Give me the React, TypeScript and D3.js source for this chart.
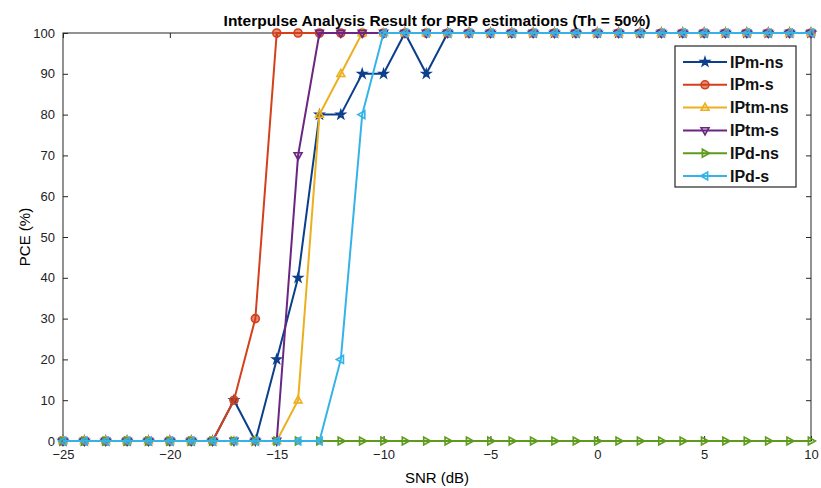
import { useEffect, useRef } from "react"
import * as d3 from "d3"

// SNR axis values (dB)
const snr = d3.range(-25, 11)

// PCE (%) per series, one value per SNR step
const ipmNs = [0, 0, 0, 0, 0, 0, 0, 0, 10, 0, 20, 40, 80, 80, 90, 90, 100, 90, 100, 100, 100, 100, 100, 100, 100, 100, 100, 100, 100, 100, 100, 100, 100, 100, 100, 100]
const ipmS = [0, 0, 0, 0, 0, 0, 0, 0, 10, 30, 100, 100, 100, 100, 100, 100, 100, 100, 100, 100, 100, 100, 100, 100, 100, 100, 100, 100, 100, 100, 100, 100, 100, 100, 100, 100]
const iptmNs = [0, 0, 0, 0, 0, 0, 0, 0, 0, 0, 0, 10, 80, 90, 100, 100, 100, 100, 100, 100, 100, 100, 100, 100, 100, 100, 100, 100, 100, 100, 100, 100, 100, 100, 100, 100]
const iptmS = [0, 0, 0, 0, 0, 0, 0, 0, 0, 0, 0, 70, 100, 100, 100, 100, 100, 100, 100, 100, 100, 100, 100, 100, 100, 100, 100, 100, 100, 100, 100, 100, 100, 100, 100, 100]
const ipdNs = [0, 0, 0, 0, 0, 0, 0, 0, 0, 0, 0, 0, 0, 0, 0, 0, 0, 0, 0, 0, 0, 0, 0, 0, 0, 0, 0, 0, 0, 0, 0, 0, 0, 0, 0, 0]
const ipdS = [0, 0, 0, 0, 0, 0, 0, 0, 0, 0, 0, 0, 0, 20, 80, 100, 100, 100, 100, 100, 100, 100, 100, 100, 100, 100, 100, 100, 100, 100, 100, 100, 100, 100, 100, 100]

const seriesNames = ["IPm-ns", "IPm-s", "IPtm-ns", "IPtm-s", "IPd-ns", "IPd-s"]
const seriesValues = [ipmNs, ipmS, iptmNs, iptmS, ipdNs, ipdS]
const seriesColors = ["#0b3f8c", "#d4401a", "#ecb01f", "#6a2682", "#5e9a1e", "#35b3e8"]
const seriesMarkers = ["star", "circle", "up", "down", "right", "left"]

const xTicks = [-25, -20, -15, -10, -5, 0, 5, 10]
const yTicks = d3.range(0, 101, 10)

const W = 821
const H = 488
const margin = { top: 33, right: 10, bottom: 47, left: 63 }
const font = "Liberation Sans, Arial, sans-serif"

const markerPath = (kind: string, r: number) => {
  if (kind === "star") return d3.symbol(d3.symbolStar, r * r * 1.1)()
  if (kind === "circle") return d3.symbol(d3.symbolCircle, r * r * 2.6)()
  const tri = `M0,${-r}L${r * 0.9},${r * 0.6}L${-r * 0.9},${r * 0.6}Z`
  const rot = { up: 0, down: 180, right: 90, left: -90 }[kind] || 0
  return { d: tri, rot }
}

const App = () => {
  const ref = useRef<SVGSVGElement>(null)

  useEffect(() => {
    const svg = d3.select(ref.current)
    svg.selectAll("*").remove()

    const width = W - margin.left - margin.right
    const height = H - margin.top - margin.bottom

    const x = d3.scaleLinear().domain([-25, 10]).range([0, width])
    const y = d3.scaleLinear().domain([0, 100]).range([height, 0])

    const g = svg.append("g").attr("transform", `translate(${margin.left},${margin.top})`)

    g.append("rect")
      .attr("width", width)
      .attr("height", height)
      .attr("fill", "#fff")
      .attr("stroke", "#262626")
      .attr("stroke-width", 1)

    // ticks inside on all four sides
    const ax = (sel: any) => sel.selectAll(".domain").remove()
    g.append("g")
      .attr("transform", `translate(0,${height})`)
      .call(d3.axisBottom(x).tickValues(xTicks).tickSizeInner(-5).tickPadding(9).tickFormat(d3.format("d")))
      .call(ax)
    g.append("g")
      .call(d3.axisTop(x).tickValues(xTicks).tickSizeInner(-5).tickFormat(() => ""))
      .call(ax)
    g.append("g")
      .call(d3.axisLeft(y).tickValues(yTicks).tickSizeInner(-5).tickPadding(8))
      .call(ax)
    g.append("g")
      .attr("transform", `translate(${width},0)`)
      .call(d3.axisRight(y).tickValues(yTicks).tickSizeInner(-5).tickFormat(() => ""))
      .call(ax)

    g.selectAll(".tick line").attr("stroke", "#262626")
    g.selectAll(".tick text")
      .attr("font-family", font)
      .attr("font-size", 13)
      .attr("fill", "#222")

    const line = d3
      .line<number>()
      .x((_, i) => x(snr[i]))
      .y((d) => y(d))

    const drawMarker = (sel: any, kind: string, color: string, cx: number, cy: number) => {
      const m: any = markerPath(kind, 4.4)
      if (typeof m === "string") {
        sel.append("path")
          .attr("d", m)
          .attr("transform", `translate(${cx},${cy})`)
          .attr("fill", color)
          .attr("fill-opacity", kind === "circle" ? 0.6 : 0.8)
          .attr("stroke", color)
          .attr("stroke-width", 1.6)
      } else {
        sel.append("path")
          .attr("d", m.d)
          .attr("transform", `translate(${cx},${cy}) rotate(${m.rot})`)
          .attr("fill", color)
          .attr("fill-opacity", 0.15)
          .attr("stroke", color)
          .attr("stroke-width", 1.6)
      }
    }

    seriesValues.forEach((vals, si) => {
      const color = seriesColors[si]
      g.append("path")
        .datum(vals)
        .attr("d", line)
        .attr("fill", "none")
        .attr("stroke", color)
        .attr("stroke-width", 2)
      const mg = g.append("g")
      vals.forEach((v, i) => drawMarker(mg, seriesMarkers[si], color, x(snr[i]), y(v)))
    })

    // title and axis labels
    svg.append("text")
      .attr("x", margin.left + width / 2)
      .attr("y", 26)
      .attr("text-anchor", "middle")
      .attr("font-family", font)
      .attr("font-size", 15.5)
      .attr("font-weight", "bold")
      .text("Interpulse Analysis Result for PRP estimations (Th = 50%)")

    svg.append("text")
      .attr("x", margin.left + width / 2)
      .attr("y", 483)
      .attr("text-anchor", "middle")
      .attr("font-family", font)
      .attr("font-size", 15)
      .text("SNR (dB)")

    svg.append("text")
      .attr("transform", `translate(30,${margin.top + height / 2}) rotate(-90)`)
      .attr("text-anchor", "middle")
      .attr("font-family", font)
      .attr("font-size", 15)
      .text("PCE (%)")

    // legend
    const lg = svg.append("g").attr("transform", "translate(675,46)")
    lg.append("rect")
      .attr("width", 121)
      .attr("height", 141)
      .attr("fill", "#fff")
      .attr("stroke", "#262626")
      .attr("stroke-width", 1.2)
    seriesNames.forEach((name, i) => {
      const cy = 16 + i * 22.8
      const color = seriesColors[i]
      lg.append("line")
        .attr("x1", 8)
        .attr("x2", 52)
        .attr("y1", cy)
        .attr("y2", cy)
        .attr("stroke", color)
        .attr("stroke-width", 2)
      drawMarker(lg, seriesMarkers[i], color, 30, cy)
      lg.append("text")
        .attr("x", 55)
        .attr("y", cy + 5.5)
        .attr("font-family", font)
        .attr("font-size", 16)
        .attr("font-weight", "bold")
        .attr("fill", "#111")
        .text(name)
    })
  }, [])

  return <svg ref={ref} width={W} height={H} style={{ display: "block", position: "absolute", left: 0, top: 0 }} />
}

export default App
